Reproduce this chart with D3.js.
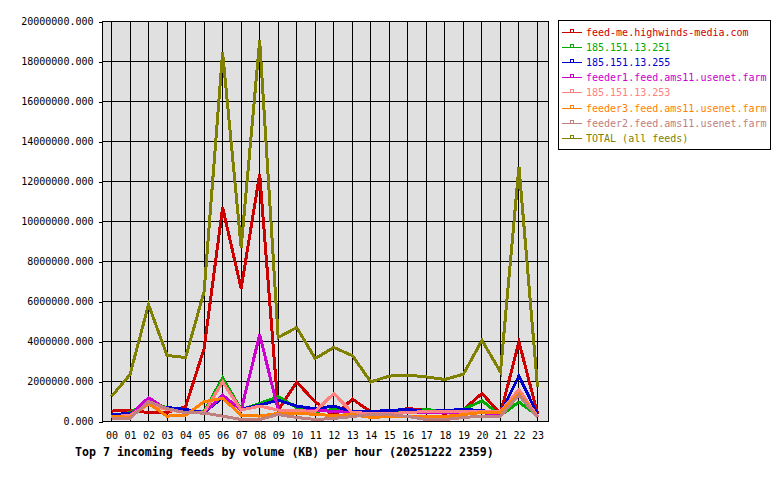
<!DOCTYPE html>
<html>
<head>
<meta charset="utf-8">
<script src="https://cdn.jsdelivr.net/npm/d3@7"></script>
<style>
  body { margin: 0; background: #fff; }
  svg { display: block; }
  text { font-family: "DejaVu Sans Mono", monospace; }
</style>
</head>
<body>
<svg id="chart" width="780" height="480"></svg>
<script>
// hours on the x axis
const hours = ['00','01','02','03','04','05','06','07','08','09','10','11',
               '12','13','14','15','16','17','18','19','20','21','22','23'];

// y tick values (KB)
const yTicks = [0, 2e6, 4e6, 6e6, 8e6, 10e6, 12e6, 14e6, 16e6, 18e6, 20e6];

// series names, in legend order
const feedNames = [
    'feed-me.highwinds-media.com',
    '185.151.13.251',
    '185.151.13.255',
    'feeder1.feed.ams11.usenet.farm',
    '185.151.13.253',
    'feeder3.feed.ams11.usenet.farm',
    'feeder2.feed.ams11.usenet.farm',
    'TOTAL (all feeds)'
];
const feedColors = ['#cc0000', '#00aa00', '#0000cc', '#cc00cc', '#ff8080', '#ff8000', '#c08080', '#808000'];

// per hour volume, millions of KB
const feedMe   = [0.52, 0.57, 0.44, 0.44, 0.74, 3.65, 10.7, 6.64, 12.38, 0.57, 1.96, 0.99, 0.27, 1.12, 0.49, 0.5, 0.65, 0.55, 0.4, 0.6, 1.4, 0.4, 3.98, 0.4];
const ip251    = [0.3, 0.45, 0.95, 0.7, 0.55, 0.5, 2.18, 0.6, 0.9, 1.24, 0.7, 0.5, 0.6, 0.45, 0.4, 0.45, 0.5, 0.6, 0.5, 0.6, 1.04, 0.3, 0.97, 0.3];
const ip255    = [0.35, 0.4, 0.85, 0.7, 0.6, 0.45, 1.2, 0.62, 0.82, 1.07, 0.77, 0.64, 0.77, 0.5, 0.5, 0.55, 0.6, 0.5, 0.55, 0.6, 0.55, 0.4, 2.28, 0.35];
const feeder1  = [0.2, 0.3, 1.19, 0.6, 0.45, 0.45, 1.32, 0.57, 4.35, 0.57, 0.55, 0.57, 0.5, 0.45, 0.4, 0.4, 0.45, 0.45, 0.45, 0.45, 0.45, 0.3, 1.5, 0.25];
const ip253    = [0.25, 0.3, 0.85, 0.6, 0.45, 0.45, 1.98, 0.57, 0.77, 0.57, 0.55, 0.5, 1.4, 0.45, 0.4, 0.4, 0.45, 0.5, 0.5, 0.5, 0.5, 0.5, 1.6, 0.25];
const feeder3  = [0.27, 0.2, 0.9, 0.27, 0.32, 0.99, 1.16, 0.32, 0.27, 0.4, 0.42, 0.35, 0.3, 0.35, 0.2, 0.25, 0.25, 0.25, 0.25, 0.35, 0.45, 0.45, 1.4, 0.2];
const feeder2  = [0.16, 0.16, 1.0, 0.65, 0.44, 0.42, 0.27, 0.1, 0.1, 0.35, 0.2, 0.1, 0.15, 0.25, 0.35, 0.35, 0.25, 0.1, 0.1, 0.2, 0.27, 0.27, 1.32, 0.2];
const total    = [1.25, 2.35, 5.85, 3.3, 3.2, 6.5, 18.45, 8.7, 19.06, 4.2, 4.7, 3.15, 3.7, 3.3, 1.98, 2.27, 2.32, 2.23, 2.1, 2.37, 4.06, 2.48, 12.74, 1.74];

const seriesValues = [feedMe, ip251, ip255, feeder1, ip253, feeder3, feeder2, total];

const title = 'Top 7 incoming feeds by volume (KB) per hour (20251222 2359)';

const svg = d3.select('#chart');

const plot = { left: 102.5, right: 548.5, top: 21.5, bottom: 421.5 };

const x = d3.scaleLinear()
    .domain([0, hours.length - 1])
    .range([111.5, 537.5]);

const y = d3.scaleLinear()
    .domain([0, 20e6])
    .range([plot.bottom, plot.top]);

const snap = v => Math.round(v - 0.5) + 0.5;

// plot background
svg.append('rect')
    .attr('x', plot.left)
    .attr('y', plot.top)
    .attr('width', plot.right - plot.left)
    .attr('height', plot.bottom - plot.top)
    .attr('fill', '#e0e0e0');

// grid
const grid = svg.append('g')
    .attr('stroke', '#000')
    .attr('stroke-width', 1)
    .attr('shape-rendering', 'crispEdges');

grid.selectAll('line.v')
    .data(hours)
    .enter()
        .append('line')
        .attr('class', 'v')
        .attr('x1', (d, i) => snap(x(i)))
        .attr('x2', (d, i) => snap(x(i)))
        .attr('y1', plot.top)
        .attr('y2', plot.bottom);

grid.selectAll('line.h')
    .data(yTicks)
    .enter()
        .append('line')
        .attr('class', 'h')
        .attr('x1', plot.left)
        .attr('x2', plot.right)
        .attr('y1', d => snap(y(d)))
        .attr('y2', d => snap(y(d)));

// frame
svg.append('rect')
    .attr('x', plot.left)
    .attr('y', plot.top)
    .attr('width', plot.right - plot.left)
    .attr('height', plot.bottom - plot.top)
    .attr('fill', 'none')
    .attr('stroke', '#000')
    .attr('shape-rendering', 'crispEdges');

// y axis
const yAxis = svg.append('g')
    .attr('transform', `translate(${plot.left},0)`)
    .call(d3.axisLeft(y)
        .tickValues(yTicks)
        .tickSize(4)
        .tickPadding(5)
        .tickFormat(d3.format('.3f')));
yAxis.select('.domain').remove();
yAxis.selectAll('line').attr('shape-rendering', 'crispEdges');
yAxis.selectAll('text')
    .attr('font-family', '"DejaVu Sans Mono", monospace')
    .attr('font-size', 10)
    .attr('fill', '#000');

// x axis
const xAxis = svg.append('g')
    .attr('transform', `translate(0,${plot.bottom})`)
    .call(d3.axisBottom(x)
        .tickValues(d3.range(hours.length))
        .tickSize(0)
        .tickPadding(10)
        .tickFormat(i => hours[i]));
xAxis.select('.domain').remove();
xAxis.selectAll('text')
    .attr('font-family', '"DejaVu Sans Mono", monospace')
    .attr('font-size', 10)
    .attr('fill', '#000');

// lines
const line = d3.line()
    .x((d, i) => x(i))
    .y(d => y(d * 1e6));

svg.append('g')
    .selectAll('path')
    .data(seriesValues)
    .enter()
        .append('path')
        .attr('d', d => line(d))
        .attr('fill', 'none')
        .attr('stroke', (d, i) => feedColors[i])
        .attr('stroke-width', 3)
        .attr('stroke-linejoin', 'miter')
        .attr('shape-rendering', 'crispEdges');

// title
svg.append('text')
    .attr('x', 75)
    .attr('y', 456)
    .attr('font-size', 11.6)
    .attr('font-weight', 'bold')
    .attr('fill', '#000')
    .text(title);

// legend
const legend = svg.append('g');
legend.append('rect')
    .attr('x', 558.5)
    .attr('y', 20.5)
    .attr('width', 212)
    .attr('height', 129)
    .attr('fill', '#fff')
    .attr('stroke', '#000')
    .attr('shape-rendering', 'crispEdges');

const rows = legend.selectAll('g.row')
    .data(feedNames)
    .enter()
        .append('g')
        .attr('class', 'row')
        .attr('transform', (d, i) => `translate(0,${Math.round(32 + i * 15.1)})`);

rows.append('line')
    .attr('x1', 562)
    .attr('x2', 582)
    .attr('y1', 0.5)
    .attr('y2', 0.5)
    .attr('stroke', (d, i) => feedColors[i])
    .attr('shape-rendering', 'crispEdges');

rows.append('rect')
    .attr('x', 570.5)
    .attr('y', -2.5)
    .attr('width', 3)
    .attr('height', 3)
    .attr('fill', 'none')
    .attr('stroke', (d, i) => feedColors[i])
    .attr('shape-rendering', 'crispEdges');

rows.append('text')
    .attr('x', 586)
    .attr('y', 4)
    .attr('font-size', 10)
    .attr('fill', (d, i) => feedColors[i])
    .text(d => d);
</script>
</body>
</html>
